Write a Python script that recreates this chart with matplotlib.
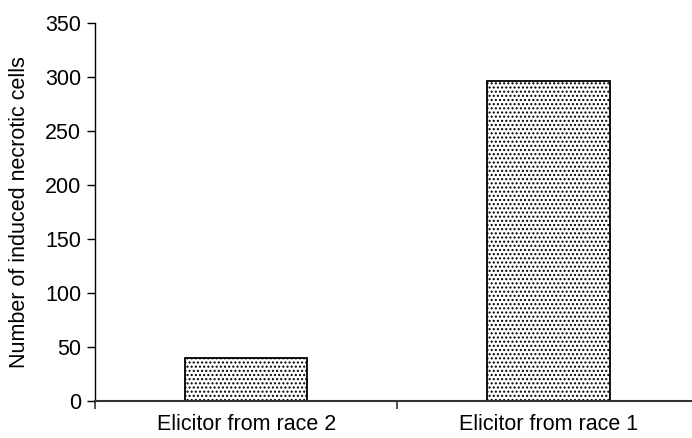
import matplotlib
matplotlib.use("Agg")
import matplotlib.pyplot as plt

categories = ["Elicitor from race 2", "Elicitor from race 1"]
values = [40, 296]
yticks = [0, 50, 100, 150, 200, 250, 300, 350]

plt.rcParams['font.family'] = ['Liberation Sans', 'DejaVu Sans']
plt.rcParams['hatch.linewidth'] = 1.0

fig = plt.figure(figsize=(6.92, 4.38), dpi=100)
ax = fig.add_axes([95/692, 1 - 401/438, 1 - 95/692, (401 - 23)/438])

x = list(range(len(categories)))
ax.bar(x, values, width=0.405, facecolor='white', edgecolor='black',
       linewidth=1.3, hatch='....', zorder=2)

ax.set_xlim(-0.5, 1.475)
ax.set_ylim(0, 350)
ax.set_yticks(yticks)
ax.set_yticklabels([str(v) for v in yticks], fontsize=15.5)
ax.set_xticks([-0.5, 0.5])
ax.set_xticklabels([])
ax.set_xticks(x, minor=True)
ax.set_xticklabels(categories, minor=True, fontsize=15.5)
ax.tick_params(axis='x', which='minor', length=0, pad=9)
ax.tick_params(axis='x', which='major', length=6, width=1.2, direction='out', color='#333333')
ax.tick_params(axis='y', length=6, width=1.0, direction='out', pad=4)

for s in ['top', 'right']:
    ax.spines[s].set_visible(False)
ax.spines['left'].set_linewidth(1.0)
ax.spines['bottom'].set_linewidth(1.5)
ax.spines['bottom'].set_color('#333333')

ax.set_ylabel("Number of induced necrotic cells", fontsize=15.5, labelpad=11)

fig.savefig("out.png", dpi=100)
